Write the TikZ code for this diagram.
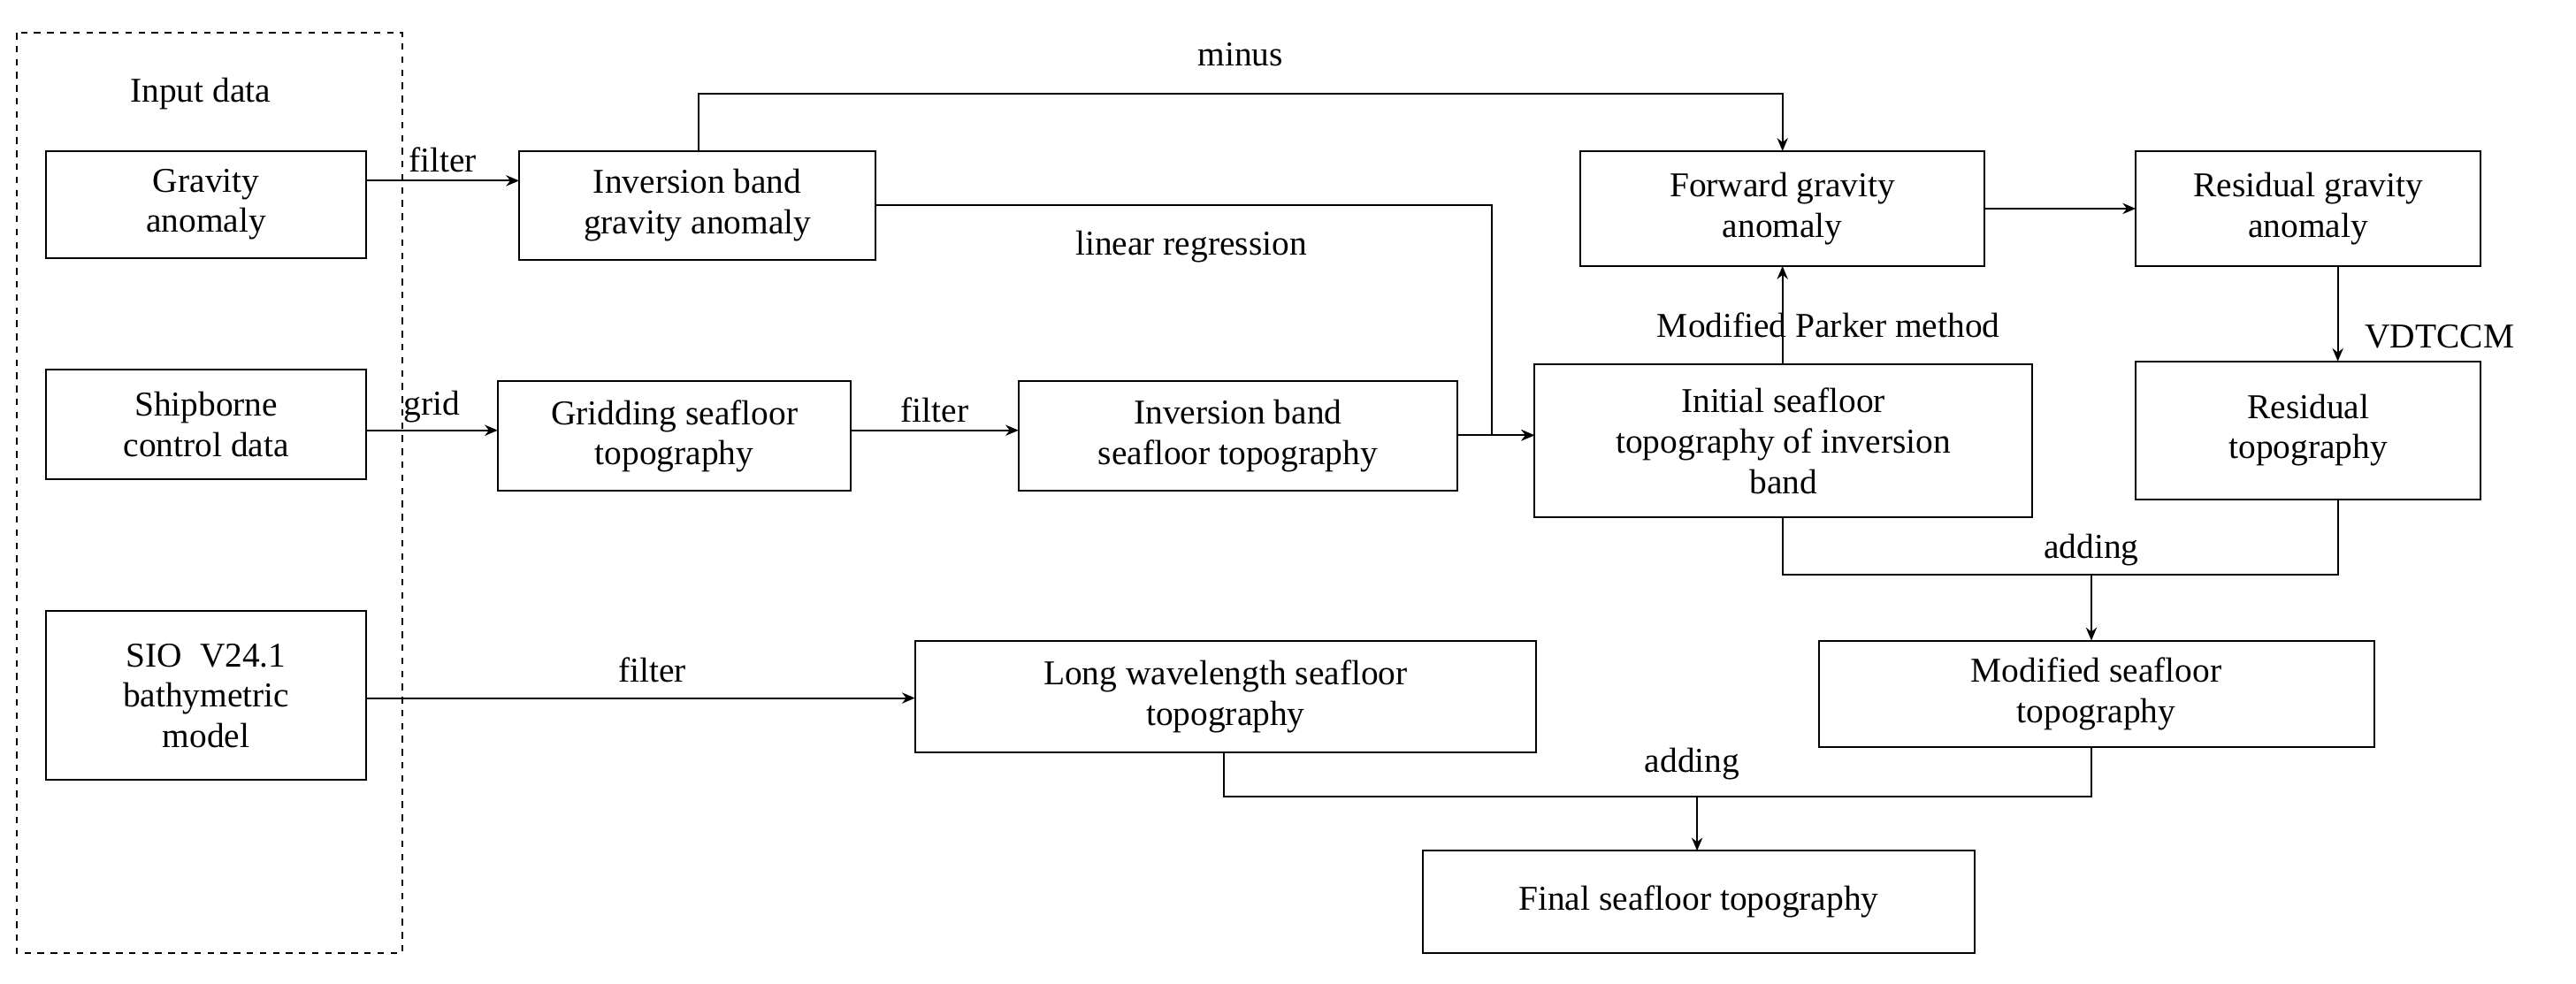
\documentclass[tikz,border=0pt]{standalone}
\usepackage{fontspec}
\setmainfont{Liberation Serif}
\usetikzlibrary{arrows.meta}
\begin{document}
\begin{tikzpicture}[x=0.0265cm,y=-0.0265cm,
  lab/.style={font=\fontsize{16}{18.5}\selectfont},
  arr/.style={-{Stealth[length=6pt,width=5pt]},thick},
  ln/.style={thick}]
\useasboundingbox (0,0) rectangle (1568,599);
\draw[thick,dashed] (10,20) rectangle (245,580);
\node[lab] (in) at (122,57) {Input data};
\newcommand{\mybox}[6]{\draw[thick] (#2,#3) rectangle (#4,#5); \node[lab,align=center] (#1) at ({(#2+#4)/2},{(#3+#5)/2}) {#6};}
\mybox{g}{28}{92}{223}{157}{Gravity\\anomaly}
\mybox{sh}{28}{225}{223}{292}{Shipborne\\control data}
\mybox{sio}{28}{372}{223}{475}{SIO\enspace V24.1\\bathymetric\\model}
\mybox{ibga}{316}{92}{533}{158}{Inversion band\\gravity anomaly}
\mybox{gr}{303}{232}{518}{299}{Gridding seafloor\\topography}
\mybox{ibst}{620}{232}{887}{299}{Inversion band\\seafloor topography}
\mybox{fw}{962}{92}{1208}{162}{Forward gravity\\anomaly}
\mybox{rg}{1300}{92}{1510}{162}{Residual gravity\\anomaly}
\mybox{ini}{934}{222}{1237}{315}{Initial seafloor\\topography of inversion\\band}
\mybox{rt}{1300}{220}{1510}{304}{Residual\\topography}
\mybox{mod}{1107}{390}{1445}{455}{Modified seafloor\\topography}
\mybox{lw}{557}{390}{935}{458}{Long wavelength seafloor\\topography}
\mybox{fin}{866}{518}{1202}{580}{Final seafloor topography}
\coordinate (a1) at (223,110); \coordinate (a2) at (316,110);
\coordinate (b1) at (223,262); \coordinate (b2) at (303,262);
\coordinate (b3) at (518,262); \coordinate (b4) at (620,262);
\coordinate (b5) at (887,265); \coordinate (b6) at (934,265);
\coordinate (d1) at (1208,127); \coordinate (d2) at (1300,127);
\coordinate (e1) at (223,425); \coordinate (e2) at (557,425);
\coordinate (c1) at (425,92);
\coordinate (c2) at (425,57);
\coordinate (c3) at (1085,57);
\coordinate (c4) at (1085,92);
\coordinate (c5) at (533,125);
\coordinate (c6) at (908,125);
\coordinate (c7) at (908,265);
\coordinate (c9) at (1085,222);
\coordinate (c10) at (1085,162);
\coordinate (c11) at (1085,315);
\coordinate (c12) at (1085,350);
\coordinate (c13) at (1423,350);
\coordinate (c14) at (1423,304);
\coordinate (c15) at (1273,350);
\coordinate (c16) at (1273,390);
\coordinate (c17) at (745,458);
\coordinate (c18) at (745,485);
\coordinate (c19) at (1273,485);
\coordinate (c20) at (1273,455);
\coordinate (c21) at (1033,485);
\coordinate (c22) at (1033,518);
\coordinate (c23) at (1423,162);
\coordinate (c24) at (1423,220);
\draw[arr] (a1) -- (a2) node[lab,midway,above] {filter};
\draw[arr] (c1) -- (c2) -- (c3) -- (c4);
\node[lab] at (755,33) {minus};
\draw[arr] (c5) -- (c6) -- (c7) -- (b6);
\node[lab] at (725,150) {linear regression};
\draw[arr] (b1) -- (b2) node[lab,midway,above] {grid};
\draw[arr] (b3) -- (b4) node[lab,midway,above] {filter};
\draw[arr] (b5) -- (b6);
\draw[arr] (c9) -- (c10);
\node[lab] at (1113,198) {Modified Parker method};
\draw[arr] (d1) -- (d2);
\draw[arr] (c23) -- (c24);
\node[lab] at (1485,205) {VDTCCM};
\draw[ln] (c11) -- (c12) -- (c13) -- (c14);
\draw[arr] (c15) -- (c16);
\node[lab] at (1273,335) {adding};
\draw[arr] (e1) -- (e2);
\node[lab] at (397,408) {filter};
\draw[ln] (c17) -- (c18) -- (c19) -- (c20);
\draw[arr] (c21) -- (c22);
\node[lab] at (1030,465) {adding};
\end{tikzpicture}
\end{document}
